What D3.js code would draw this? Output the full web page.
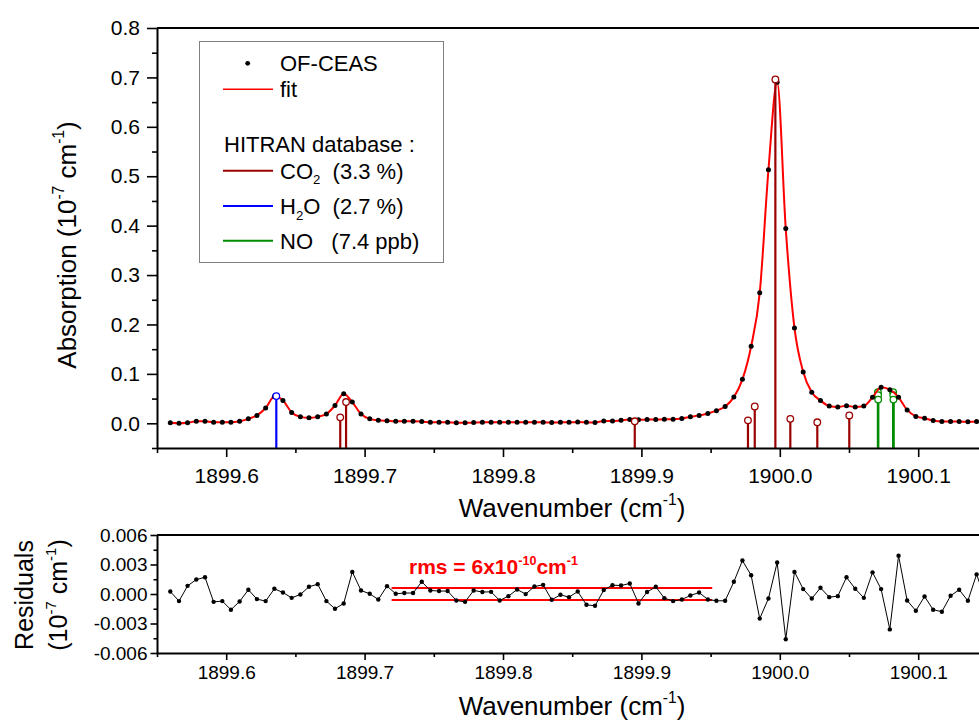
<!DOCTYPE html>
<html>
<head>
<meta charset="utf-8">
<script src="https://cdn.jsdelivr.net/npm/d3@7"></script>
<style>
  body { margin: 0; background: #fff; }
  text { font-family: "Liberation Sans", Arial, sans-serif; }
</style>
</head>
<body>
<div id="grafico"></div>
<script>
// Spectrum (OF-CEAS) : wavenumber in cm-1, absorption in 1e-7 cm-1
const wavenumber = [
  1899.5596, 1899.5659, 1899.5721, 1899.5784, 1899.5847, 1899.5909, 1899.5972, 1899.6034, 1899.6097, 1899.6160,
  1899.6222, 1899.6285, 1899.6348, 1899.6410, 1899.6473, 1899.6536, 1899.6598, 1899.6661, 1899.6724, 1899.6786,
  1899.6849, 1899.6911, 1899.6974, 1899.7037, 1899.7099, 1899.7162, 1899.7225, 1899.7287, 1899.7350, 1899.7413,
  1899.7475, 1899.7538, 1899.7600, 1899.7663, 1899.7726, 1899.7788, 1899.7851, 1899.7914, 1899.7976, 1899.8039,
  1899.8102, 1899.8164, 1899.8227, 1899.8290, 1899.8352, 1899.8415, 1899.8477, 1899.8540, 1899.8603, 1899.8665,
  1899.8728, 1899.8791, 1899.8853, 1899.8916, 1899.8979, 1899.9041, 1899.9104, 1899.9166, 1899.9229, 1899.9292,
  1899.9354, 1899.9417, 1899.9480, 1899.9542, 1899.9605, 1899.9668, 1899.9730, 1899.9793, 1899.9855, 1899.9918,
  1899.9981, 1900.0043, 1900.0106, 1900.0169, 1900.0231, 1900.0294, 1900.0357, 1900.0419, 1900.0482, 1900.0545,
  1900.0607, 1900.0670, 1900.0732, 1900.0795, 1900.0858, 1900.0920, 1900.0983, 1900.1046, 1900.1108, 1900.1171,
  1900.1234, 1900.1296, 1900.1359, 1900.1422, 1900.1485
];

const absorption = [
  0.001, 0.000, 0.001, 0.004, 0.004, 0.002, 0.002, 0.002, 0.004, 0.009,
  0.016, 0.031, 0.054, 0.046, 0.022, 0.013, 0.011, 0.013, 0.019, 0.036,
  0.060, 0.043, 0.019, 0.009, 0.006, 0.005, 0.004, 0.004, 0.004, 0.0035,
  0.002, 0.002, 0.002, 0.001, 0.001, 0.0015, 0.002, 0.002, 0.002, 0.002,
  0.002, 0.002, 0.002, 0.002, 0.0015, 0.002, 0.002, 0.0025, 0.002, 0.0015,
  0.0045, 0.0045, 0.006, 0.0075, 0.007, 0.0075, 0.0075, 0.008, 0.008, 0.0095,
  0.013, 0.016, 0.020, 0.0255, 0.034, 0.053, 0.089, 0.156, 0.264, 0.513,
  0.690, 0.394, 0.193, 0.104, 0.063, 0.046, 0.035, 0.033, 0.0355, 0.033,
  0.035, 0.0525, 0.073, 0.068, 0.0525, 0.027, 0.014, 0.010, 0.0055, 0.0035,
  0.0035, 0.0035, 0.003, 0.0035, 0.003
];

const residuals = [
  0.00025, -0.00072, 0.00083, 0.00147, 0.0017, -0.0008, -0.00072, -0.0016, -0.00076, 0.00043,
  -0.00052, -0.00072, 0.00053, 0.00015, -0.00039, -0.00005, 0.00073, 0.001, -0.00072, -0.0015,
  -0.00096, 0.00225, 0.00036, 0.00002, -0.00056, 0.0008, 0.00002, 0.0001, 0.0001, 0.00124,
  0.00036, 0.0003, 0.0003, -0.00066, -0.0008, 0.00036, 0.0002, 0.00022, -0.00066, -0.00022,
  0.00046, -0.00001, 0.00076, 0.00093, -0.00059, -0.00008, -0.00032, 0.00025, -0.0011, -0.0012,
  0.0004, 0.0009, 0.00086, 0.00107, -0.00096, 0.0002, 0.00073, -0.00042, -0.00072, -0.00056,
  -0.00015, 0.00015, -0.00056, -0.00069, -0.00069, 0.00124, 0.0034, 0.0019, -0.0025, -0.00046,
  0.0032, -0.0046, 0.00225, 0.0005, -0.00046, 0.00063, -0.00032, -0.00022, 0.0017, 0.00053,
  -0.00039, 0.0022, 0.0005, -0.0036, 0.0039, -0.00066, -0.0017, -0.00025, -0.0016, -0.0018,
  -0.00018, 0.00043, -0.00069, 0.002, -0.0006
];

// HITRAN lines
const co2Pos = [1899.6824, 1899.6866, 1899.8952, 1899.9770, 1899.9819, 1899.9968, 1900.0076, 1900.0271, 1900.0502];
const co2Int = [0.012, 0.043, 0.004, 0.006, 0.034, 0.696, 0.009, 0.002, 0.016];
const h2oPos = [1899.6362];
const h2oInt = [0.055];
const noPos = [1900.0709, 1900.0710, 1900.0711, 1900.0819, 1900.0820, 1900.0821];
const noInt = [0.063, 0.057, 0.048, 0.063, 0.057, 0.048];

// rms band of the residuals
const rmsLevel = [-0.0006, 0.0006];
const rmsFrom = 1899.7195;
const rmsTo = 1899.9512;

// ticks
const xTicks = [1899.6, 1899.7, 1899.8, 1899.9, 1900.0, 1900.1];
const xMinor = [1899.55, 1899.65, 1899.75, 1899.85, 1899.95, 1900.05, 1900.15];
const yTicks = [0.0, 0.1, 0.2, 0.3, 0.4, 0.5, 0.6, 0.7, 0.8];
const yMinor = [-0.05, 0.05, 0.15, 0.25, 0.35, 0.45, 0.55, 0.65, 0.75];
const resTicks = [-0.006, -0.003, 0.0, 0.003, 0.006];
const resMinor = [-0.0045, -0.0015, 0.0015, 0.0045];

const corCO2 = "#9a0000";
const corH2O = "#0000ff";
const corNO = "#008c00";

const svg = d3.select("#grafico").append("svg")
  .attr("width", 979)
  .attr("height", 720);

svg.append("rect").attr("width", 979).attr("height", 720).attr("fill", "#fff");

// escalas
const x = d3.scaleLinear().domain([1899.55, 1900.15]).range([157, 987.4]);
const y = d3.scaleLinear().domain([-0.05, 0.8]).range([448, 28]);
const yRes = d3.scaleLinear().domain([-0.006, 0.006]).range([653, 535]);

// texto com expoentes / indices (o deslocamento de volta vai no pedaco seguinte)
function richText(sel, parts, size) {
  let volta = 0;
  parts.forEach(p => {
    const t = sel.append("tspan").text(p.t);
    if (p.sup) {
      t.attr("font-size", size * 0.6).attr("dy", -size * 0.45 + volta);
      volta = size * 0.45;
    } else if (p.sub) {
      t.attr("font-size", size * 0.6).attr("dy", size * 0.25 + volta);
      volta = -size * 0.25;
    } else {
      t.attr("font-size", size);
      if (volta) t.attr("dy", volta);
      volta = 0;
    }
  });
  return sel;
}

function estiloEixo(g, fs) {
  g.attr("font-size", fs).attr("font-family", '"Liberation Sans", Arial, sans-serif');
  g.select(".domain").attr("stroke-width", 2);
  g.selectAll(".tick line").attr("stroke-width", 1.6);
  g.selectAll(".tick text").attr("fill", "#000");
}

// ---------------- painel principal ----------------
svg.append("clipPath").attr("id", "clipMain")
  .append("rect").attr("x", 157).attr("y", 28).attr("width", 830).attr("height", 420);

const main = svg.append("g").attr("clip-path", "url(#clipMain)");

function sticks(pos, ints, cor) {
  const g = main.append("g");
  g.selectAll("line").data(pos).join("line")
    .attr("x1", d => x(d)).attr("x2", d => x(d))
    .attr("y1", y(-0.05)).attr("y2", (d, i) => y(ints[i]))
    .attr("stroke", cor).attr("stroke-width", 2.2);
  g.selectAll("circle").data(pos).join("circle")
    .attr("cx", d => x(d)).attr("cy", (d, i) => y(ints[i]))
    .attr("r", 3.3).attr("fill", "#fff")
    .attr("stroke", cor).attr("stroke-width", 1.3);
}

// NO por baixo
sticks(noPos, noInt, corNO);

// fit
const fitLine = d3.line()
  .x((d, i) => x(wavenumber[i]))
  .y(d => y(d))
  .curve(d3.curveMonotoneX);

main.append("path")
  .datum(absorption)
  .attr("d", fitLine)
  .attr("fill", "none")
  .attr("stroke", "#ff0000")
  .attr("stroke-width", 2);

// pontos OF-CEAS
main.append("g").selectAll("circle").data(absorption).join("circle")
  .attr("cx", (d, i) => x(wavenumber[i]))
  .attr("cy", d => y(d))
  .attr("r", 2.5)
  .attr("fill", "#000");

sticks(co2Pos, co2Int, corCO2);
sticks(h2oPos, h2oInt, corH2O);

// eixos
svg.append("g").attr("transform", "translate(157,0)")
  .call(d3.axisLeft(y).tickValues(yTicks).tickFormat(d3.format(".1f")).tickSize(10).tickSizeOuter(0).tickPadding(7))
  .call(g => estiloEixo(g, 21));
svg.append("g").attr("transform", "translate(157,0)")
  .call(d3.axisLeft(y).tickValues(yMinor).tickFormat("").tickSize(5).tickSizeOuter(0))
  .call(g => { estiloEixo(g, 21); g.select(".domain").remove(); });

svg.append("g").attr("transform", "translate(0,448)")
  .call(d3.axisBottom(x).tickValues(xTicks).tickFormat(d3.format(".1f")).tickSize(9).tickSizeOuter(0).tickPadding(11))
  .call(g => estiloEixo(g, 21));
svg.append("g").attr("transform", "translate(0,448)")
  .call(d3.axisBottom(x).tickValues(xMinor).tickFormat("").tickSize(5).tickSizeOuter(0))
  .call(g => { estiloEixo(g, 21); g.select(".domain").remove(); });

svg.append("line")
  .attr("x1", 157).attr("x2", 979).attr("y1", 28).attr("y2", 28)
  .attr("stroke", "#000").attr("stroke-width", 2);

// titulos
richText(svg.append("text")
  .attr("transform", "translate(76,245) rotate(-90)")
  .attr("text-anchor", "middle"),
  [{ t: "Absorption (10" }, { t: "-7", sup: true }, { t: " cm" }, { t: "-1", sup: true }, { t: ")" }], 26);

richText(svg.append("text")
  .attr("x", 572).attr("y", 517)
  .attr("text-anchor", "middle"),
  [{ t: "Wavenumber (cm" }, { t: "-1", sup: true }, { t: ")" }], 26);

// legenda
const leg = svg.append("g");
leg.append("rect")
  .attr("x", 199.5).attr("y", 41.5).attr("width", 244).attr("height", 221)
  .attr("fill", "#fff").attr("stroke", "#808080").attr("stroke-width", 1);
leg.append("circle").attr("cx", 247.7).attr("cy", 63.3).attr("r", 2.4).attr("fill", "#000");
leg.append("text").attr("x", 280).attr("y", 70.7).attr("font-size", 22).text("OF-CEAS");
leg.append("line").attr("x1", 223).attr("x2", 273).attr("y1", 89.3).attr("y2", 89.3)
  .attr("stroke", "#ff0000").attr("stroke-width", 1.5);
leg.append("text").attr("x", 280).attr("y", 97.3).attr("font-size", 22).text("fit");
leg.append("text").attr("x", 224).attr("y", 152.3).attr("font-size", 22).text("HITRAN database :");

const legItems = [
  { cor: corCO2, y: 170.7, parts: [{ t: "CO" }, { t: "2", sub: true }, { t: "  (3.3 %)" }] },
  { cor: corH2O, y: 206, parts: [{ t: "H" }, { t: "2", sub: true }, { t: "O  (2.7 %)" }] },
  { cor: corNO, y: 240.7, parts: [{ t: "NO   (7.4 ppb)" }] }
];
legItems.forEach(it => {
  leg.append("line").attr("x1", 223).attr("x2", 273).attr("y1", it.y).attr("y2", it.y)
    .attr("stroke", it.cor).attr("stroke-width", 2);
  richText(leg.append("text").attr("x", 280).attr("y", it.y + 8)
    .style("white-space", "pre"), it.parts, 22);
});

// ---------------- residuos ----------------
svg.append("clipPath").attr("id", "clipRes")
  .append("rect").attr("x", 157).attr("y", 530).attr("width", 830).attr("height", 128);

const res = svg.append("g").attr("clip-path", "url(#clipRes)");

rmsLevel.forEach(v => {
  res.append("line")
    .attr("x1", x(rmsFrom)).attr("x2", x(rmsTo))
    .attr("y1", yRes(v)).attr("y2", yRes(v))
    .attr("stroke", "#ff0000").attr("stroke-width", 2);
});

const resLine = d3.line()
  .x((d, i) => x(wavenumber[i]))
  .y(d => yRes(d));

res.append("path")
  .datum(residuals)
  .attr("d", resLine)
  .attr("fill", "none")
  .attr("stroke", "#000")
  .attr("stroke-width", 1);

res.append("g").selectAll("circle").data(residuals).join("circle")
  .attr("cx", (d, i) => x(wavenumber[i]))
  .attr("cy", d => yRes(d))
  .attr("r", 2.2)
  .attr("fill", "#000");

svg.append("g").attr("transform", "translate(157,0)")
  .call(d3.axisLeft(yRes).tickValues(resTicks).tickFormat(d => d.toFixed(3)).tickSize(6.5).tickSizeOuter(0).tickPadding(3))
  .call(g => estiloEixo(g, 19));
svg.append("g").attr("transform", "translate(157,0)")
  .call(d3.axisLeft(yRes).tickValues(resMinor).tickFormat("").tickSize(3.5).tickSizeOuter(0))
  .call(g => { estiloEixo(g, 19); g.select(".domain").remove(); });

svg.append("g").attr("transform", "translate(0,653)")
  .call(d3.axisBottom(x).tickValues(xTicks).tickFormat(d3.format(".1f")).tickSize(7).tickSizeOuter(0).tickPadding(6))
  .call(g => estiloEixo(g, 19));
svg.append("g").attr("transform", "translate(0,653)")
  .call(d3.axisBottom(x).tickValues(xMinor).tickFormat("").tickSize(4).tickSizeOuter(0))
  .call(g => { estiloEixo(g, 19); g.select(".domain").remove(); });

svg.append("line")
  .attr("x1", 157).attr("x2", 979).attr("y1", 535).attr("y2", 535)
  .attr("stroke", "#000").attr("stroke-width", 2);

richText(svg.append("text")
  .attr("x", 409).attr("y", 574)
  .attr("font-weight", "bold").attr("fill", "#ff0000"),
  [{ t: "rms = 6x10" }, { t: "-10", sup: true }, { t: "cm" }, { t: "-1", sup: true }], 21);

richText(svg.append("text")
  .attr("transform", "translate(33,595) rotate(-90)")
  .attr("text-anchor", "middle"),
  [{ t: "Residuals" }], 25);
richText(svg.append("text")
  .attr("transform", "translate(67,595) rotate(-90)")
  .attr("text-anchor", "middle"),
  [{ t: "(10" }, { t: "-7", sup: true }, { t: " cm" }, { t: "-1", sup: true }, { t: ")" }], 25);

richText(svg.append("text")
  .attr("x", 572).attr("y", 715)
  .attr("text-anchor", "middle"),
  [{ t: "Wavenumber (cm" }, { t: "-1", sup: true }, { t: ")" }], 26);
</script>
</body>
</html>
